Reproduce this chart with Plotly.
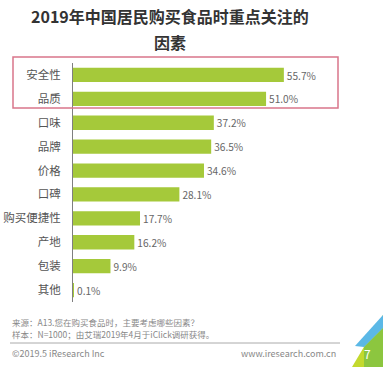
import plotly.graph_objects as go

categories = ["安全性", "品质", "口味", "品牌", "价格", "口碑", "购买便捷性", "产地", "包装", "其他"]
values = [55.7, 51.0, 37.2, 36.5, 34.6, 28.1, 17.7, 16.2, 9.9, 0.1]
value_labels = ["55.7%", "51.0%", "37.2%", "36.5%", "34.6%", "28.1%", "17.7%", "16.2%", "9.9%", "0.1%"]

title_line1 = "2019年中国居民购买食品时重点关注的"
title_line2 = "因素"
source_line1 = "来源：A13.您在购买食品时，主要考虑哪些因素？"
source_line2 = "样本：N=1000；由艾瑞2019年4月于iClick调研获得。"
copyright_text = "©2019.5 iResearch Inc"
website_text = "www.iresearch.com.cn"
page_number = "7"

W, H = 387, 374
L, R, T, B = 73, 338, 63, 302  # plot area in pixels
FONT = "Noto Sans CJK SC, Noto Sans, sans-serif"


def px(x):
    return (x - L) / (R - L)


def py(y):
    return (B - y) / (B - T)


fig = go.Figure(
    go.Bar(
        y=categories,
        x=values,
        orientation="h",
        marker=dict(color="#a5c93a", line=dict(width=0)),
        text=value_labels,
        textposition="outside",
        textfont=dict(size=12, color="#666666", family=FONT),
        cliponaxis=False,
        width=0.6,
    )
)

fig.update_layout(
    width=W,
    height=H,
    margin=dict(l=L, r=W - R, t=T, b=H - B, autoexpand=False),
    paper_bgcolor="white",
    plot_bgcolor="white",
    showlegend=False,
    font=dict(family=FONT, color="#666666"),
    xaxis=dict(range=[0, 70], visible=False, fixedrange=True, automargin=False),
    yaxis=dict(
        autorange="reversed",
        automargin=False,
        showline=True,
        linecolor="#7f7f7f",
        linewidth=1,
        showgrid=False,
        ticks="",
        ticklabelstandoff=9,
        tickfont=dict(size=11.5, color="#555555", family=FONT),
    ),
)

annotations = [
    dict(text="<b>" + title_line1 + "</b>", x=px(170), y=py(16), xanchor="center", yanchor="middle",
         font=dict(size=16, color="#333333", family=FONT)),
    dict(text="<b>" + title_line2 + "</b>", x=px(170), y=py(42), xanchor="center", yanchor="middle",
         font=dict(size=16, color="#333333", family=FONT)),
    dict(text=source_line1, x=px(10), y=py(322), xanchor="left", yanchor="middle",
         font=dict(size=8.5, color="#888888", family=FONT)),
    dict(text=source_line2, x=px(10), y=py(333.5), xanchor="left", yanchor="middle",
         font=dict(size=8.5, color="#888888", family=FONT)),
    dict(text=copyright_text, x=px(10), y=py(353), xanchor="left", yanchor="middle",
         font=dict(size=9, color="#888888", family=FONT)),
    dict(text=website_text, x=px(338), y=py(353), xanchor="right", yanchor="middle",
         font=dict(size=9, color="#888888", family=FONT)),
    dict(text=page_number, x=px(367), y=py(353), xanchor="center", yanchor="middle",
         font=dict(size=12, color="white", family=FONT)),
]
for a in annotations:
    a.update(xref="paper", yref="paper", showarrow=False)


def path(points):
    return "M " + " L ".join(f"{px(x)},{py(y)}" for x, y in points) + " Z"


shapes = [
    # highlight rectangle
    dict(type="rect", xref="paper", yref="paper", x0=px(13), x1=px(338), y0=py(108), y1=py(57),
         line=dict(color="#d9768a", width=1.5), fillcolor="rgba(0,0,0,0)"),
    # footer separator
    dict(type="line", xref="paper", yref="paper", x0=px(10), x1=px(340), y0=py(343), y1=py(343),
         line=dict(color="#aaaaaa", width=1)),
    # corner decoration
    dict(type="path", xref="paper", yref="paper", layer="above",
         path=path([(352, 367), (383, 367), (383, 315)]),
         fillcolor="#c3d92e", line=dict(width=0)),
    dict(type="path", xref="paper", yref="paper", layer="above",
         path=path([(364, 347), (383, 328), (383, 367), (364, 367)]),
         fillcolor="#8cc63f", line=dict(width=0)),
    dict(type="path", xref="paper", yref="paper", layer="above",
         path=path([(355, 346), (383, 315), (383, 328), (364, 347)]),
         fillcolor="#5bb8e6", line=dict(width=0)),
]
fig.update_layout(shapes=shapes, annotations=annotations)

fig.write_html("out.html", config={"displayModeBar": False})

with open("out.html", encoding="utf-8") as f:
    html = f.read()
html = html.replace("<body>", '<body style="margin:0;padding:0;overflow:hidden">', 1)
with open("out.html", "w", encoding="utf-8") as f:
    f.write(html)
